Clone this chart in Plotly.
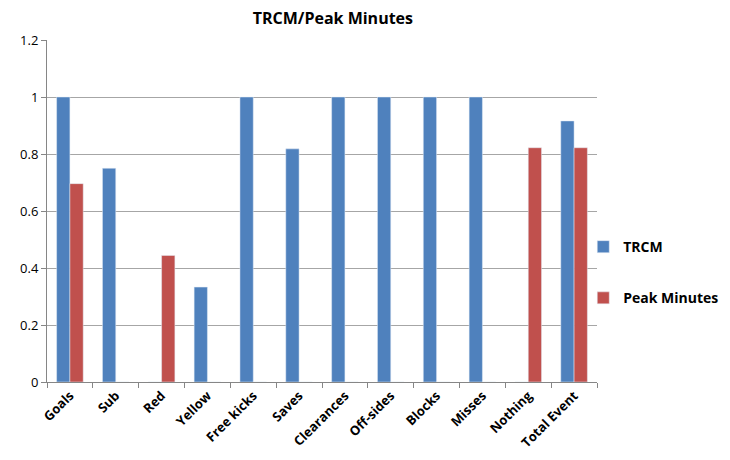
import plotly.graph_objects as go

categories = ["Goals", "Sub", "Red", "Yellow", "Free kicks", "Saves", "Clearances",
              "Off-sides", "Blocks", "Misses", "Nothing", "Total Event"]
trcm = [1, 0.75, 0, 0.333, 1, 0.818, 1, 1, 1, 1, 0, 0.916]
peak_minutes = [0.696, 0, 0.444, 0, 0, 0, 0, 0, 0, 0, 0.822, 0.822]
y_ticks = [0, 0.2, 0.4, 0.6, 0.8, 1, 1.2]
y_tick_labels = ["0", "0.2", "0.4", "0.6", "0.8", "1", "1.2"]

fig = go.Figure()
fig.add_trace(go.Bar(x=categories, y=trcm, name="<b>TRCM</b>", marker_color="#4F81BD",
                     legendgroup="a"))
fig.add_trace(go.Bar(x=categories, y=peak_minutes, name="<b>Peak Minutes</b>",
                     marker_color="#C0504D", legendgroup="b"))

fig.update_layout(
    width=730, height=460,
    margin=dict(l=37, r=141, t=32, b=86),
    paper_bgcolor="white", plot_bgcolor="white",
    barmode="group", bargap=0.42, bargroupgap=0,
    title=dict(text="<b>TRCM/Peak Minutes</b>", x=0.445, xanchor="center",
               y=0.978, yanchor="middle",
               font=dict(family="Open Sans", size=16, color="black")),
    font=dict(family="Open Sans", color="black"),
    legend=dict(x=0.975, xanchor="left", y=0.32, yanchor="middle",
                tracegroupgap=30, font=dict(size=14, color="black"),
                itemwidth=30, bgcolor="rgba(0,0,0,0)"),
    xaxis=dict(tickangle=-45, tickfont=dict(size=13, family="Open Sans", color="black",
                                            weight="bold"),
               ticks="outside", tickson="boundaries", ticklen=5, tickcolor="#868686",
               showline=True, linecolor="#868686", showgrid=False),
    yaxis=dict(range=[0, 1.2], tickvals=y_ticks, ticktext=y_tick_labels,
               tickfont=dict(size=13, family="Open Sans", color="black"),
               ticks="outside", ticklen=5, tickcolor="#868686",
               showline=True, linecolor="#868686",
               showgrid=True, gridcolor="#a6a6a6", zeroline=False),
)
fig.write_html("out.html")
